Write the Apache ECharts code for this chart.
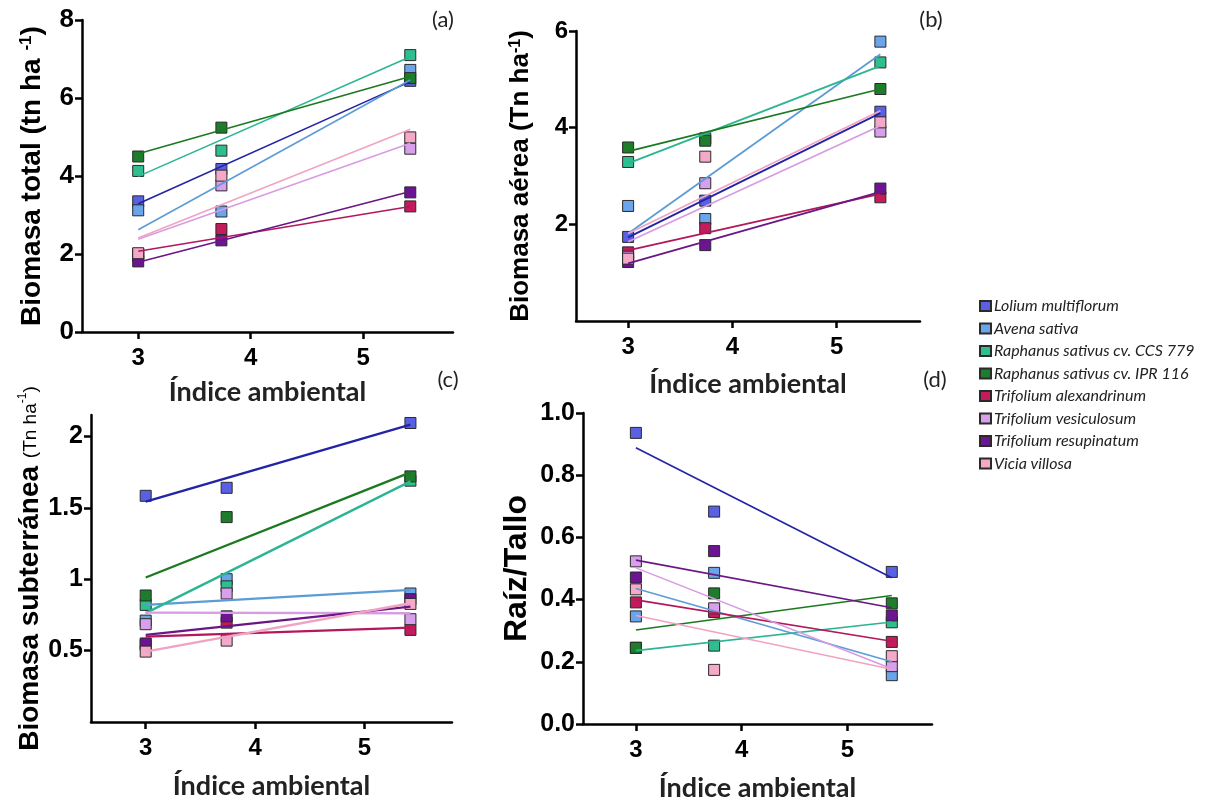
<!DOCTYPE html>
<html>
<head>
<meta charset="utf-8">
<script src="https://cdn.jsdelivr.net/npm/echarts@6/dist/echarts.min.js"></script>
<style>
html,body{margin:0;padding:0;background:#fff;}
#chart{width:1214px;height:803px;}
</style>
</head>
<body>
<div id="chart"></div>
<script>
// ---- data ----
const species = ['Lolium multiflorum','Avena sativa','Raphanus sativus cv. CCS 779','Raphanus sativus cv. IPR 116','Trifolium alexandrinum','Trifolium vesiculosum','Trifolium resupinatum','Vicia villosa'];
const envIndex = [3.0, 3.74, 5.42];
const fitX = [3.0, 5.42];
const xTicks = [3, 4, 5];

// (a) Biomasa total: rows follow species order
const totalPts = [
  [3.35, 4.18, 6.44],
  [3.12, 3.09, 6.72],
  [4.13, 4.65, 7.10],
  [4.50, 5.24, 6.51],
  [1.95, 2.64, 3.22],
  [2.00, 3.76, 4.70],
  [1.81, 2.35, 3.58],
  [2.02, 4.01, 4.99]
];
const totalFit = [
  [3.29, 6.42],[2.62, 6.46],[3.99, 7.06],[4.57, 6.55],
  [2.07, 3.22],[2.38, 4.84],[1.79, 3.60],[2.41, 5.20]
];
// (b) Biomasa aérea
const aereaPts = [
  [1.74, 2.49, 4.33],
  [2.38, 2.11, 5.78],
  [3.29, 3.78, 5.35],
  [3.59, 3.73, 4.80],
  [1.42, 1.92, 2.56],
  [1.33, 2.85, 3.92],
  [1.22, 1.57, 2.74],
  [1.29, 3.40, 4.11]
];
const aereaFit = [
  [1.73, 4.30],[1.81, 5.52],[3.26, 5.28],[3.51, 4.80],
  [1.46, 2.63],[1.64, 4.04],[1.19, 2.67],[1.81, 4.35]
];
// (c) Biomasa subterránea
const subtPts = [
  [1.584, 1.64, 2.094],
  [0.71, 1.00, 0.90],
  [0.82, 0.95, 1.69],
  [0.886, 1.435, 1.72],
  [0.54, 0.696, 0.645],
  [0.685, 0.90, 0.72],
  [0.55, 0.74, 0.86],
  [0.493, 0.57, 0.827]
];
const subtFit = [
  [1.544, 2.082],[0.82, 0.925],[0.762, 1.685],[1.012, 1.748],
  [0.598, 0.661],[0.766, 0.762],[0.61, 0.808],[0.493, 0.832]
];
// (d) Raíz/Tallo
const ratioPts = [
  [0.936, 0.683, 0.489],
  [0.346, 0.486, 0.157],
  [0.245, 0.252, 0.327],
  [0.245, 0.42, 0.388],
  [0.391, 0.36, 0.264],
  [0.523, 0.372, 0.186],
  [0.471, 0.556, 0.349],
  [0.433, 0.174, 0.218]
];
const ratioFit = [
  [0.888, 0.470],[0.436, 0.20],[0.236, 0.328],[0.302, 0.413],
  [0.399, 0.266],[0.502, 0.178],[0.527, 0.374],[0.349, 0.176]
];

// ---- styles ----
const markerColors = ['#5a60e4','#6aa4ea','#2fbf8f','#1d7d2b','#c51a5b','#d8a0ec','#6c1494','#f4a9c8'];
const lineColors   = ['#2323a6','#5c9cd6','#2bb592','#1b7a1f','#b2185b','#d79ce2','#6a1784','#f0a3c4'];

const panels = [
  {pts: totalPts, fit: totalFit, grid:{left:82, top:20, width:371, height:312}, ymin:0, ymax:8, yticks:[0,2,4,6,8], yfmt: v=>String(v), yfont:26,
   yname:'{m|Biomasa total (tn ha }{s|-1}{m|)}', yrich:{m:{fontSize:28,fontWeight:'bold',fontFamily:'Liberation Sans'}, s:{fontSize:17,fontWeight:'bold',fontFamily:'Liberation Sans',verticalAlign:'top'}}, ygap:36, xgap:47, lw:1.6},
  {pts: aereaPts, fit: aereaFit, grid:{left:576, top:31, width:344, height:290}, ymin:0, ymax:6, yticks:[2,4,6], yfmt: v=>String(v), yfont:24,
   yname:'{m|Biomasa aérea (Tn ha}{s|-1}{m|)}', yrich:{m:{fontSize:26,fontWeight:'bold',fontFamily:'Liberation Sans'}, s:{fontSize:16,fontWeight:'bold',fontFamily:'Liberation Sans',verticalAlign:'top'}}, ygap:42, xgap:50, lw:1.8},
  {pts: subtPts, fit: subtFit, grid:{left:91, top:415, width:361, height:307}, ymin:0, ymax:2.15, yticks:[0.5,1,1.5,2], yfmt: v=>String(v), yfont:25,
   yname:'{m|Biomasa subterránea }{s|(Tn ha}{t|-1}{s|)}', yrich:{m:{fontSize:28,fontWeight:'bold',fontFamily:'Liberation Sans'}, s:{fontSize:19,fontFamily:'Liberation Sans'}, t:{fontSize:12,fontFamily:'Liberation Sans',verticalAlign:'top'}}, ygap:46, xgap:51, lw:2.4},
  {pts: ratioPts, fit: ratioFit, grid:{left:583, top:413, width:349, height:314}, ymin:0, ymax:1, yticks:[0,0.2,0.4,0.6,0.8,1.0], yfmt: v=>v.toFixed(1), yfont:25,
   yname:'Raíz/Tallo', yrich:null, ygap:50, xgap:51, lw:1.6}
];

const grids = [], xAxes = [], yAxes = [], series = [];
panels.forEach((p, i) => {
  grids.push(p.grid);
  xAxes.push({
    type:'value', gridIndex:i, min:2.5, max:5.8,
    axisLine:{show:true, onZero:false, lineStyle:{color:'#000', width:2.5}},
    axisTick:{show:true, inside:false, length:7, lineStyle:{color:'#000', width:2.5}, customValues:xTicks},
    axisLabel:{show:true, customValues:xTicks, color:'#000', fontSize:24, fontWeight:'bold', fontFamily:'Liberation Sans', margin:14},
    splitLine:{show:false},
    name:'Índice ambiental', nameLocation:'middle', nameGap:p.xgap,
    nameTextStyle:{color:'#222', fontSize:27, fontWeight:'bold', fontFamily:'Lato'}
  });
  const yName = {
    name:p.yname, nameLocation:'middle', nameGap:p.ygap, nameRotate:90,
    nameTextStyle: p.yrich ? {rich:p.yrich, color:'#000'} : {color:'#000', fontSize:32, fontWeight:'bold', fontFamily:'Liberation Sans'}
  };
  yAxes.push(Object.assign({
    type:'value', gridIndex:i, min:p.ymin, max:p.ymax,
    axisLine:{show:true, onZero:false, lineStyle:{color:'#000', width:2.5}},
    axisTick:{show:true, inside:false, length:7, lineStyle:{color:'#000', width:2.5}, customValues:p.yticks},
    axisLabel:{show:true, customValues:p.yticks, formatter:p.yfmt, color:'#000', fontSize:p.yfont, fontWeight:'bold', fontFamily:'Liberation Sans', margin:8},
    splitLine:{show:false}
  }, yName));
  species.forEach((s, k) => {
    series.push({
      type:'scatter', name:s, xAxisIndex:i, yAxisIndex:i, symbol:'rect', symbolSize:11, z:2,
      itemStyle:{color:markerColors[k], borderColor:'#2a2a2a', borderWidth:1, opacity:1},
      data: envIndex.map((x, j) => [x, p.pts[k][j]]),
      emphasis:{disabled:true}
    });
  });
  species.forEach((s, k) => {
    series.push({
      type:'line', name:s + ' (ajuste)', xAxisIndex:i, yAxisIndex:i, symbol:'none', z:3,
      lineStyle:{color:lineColors[k], width:p.lw},
      data: fitX.map((x, j) => [x, p.fit[k][j]]),
      emphasis:{disabled:true}, silent:true
    });
  });
});

const panelLabels = [['(a)',443,20],['(b)',931,20],['(c)',448,380],['(d)',935,380]];

const chart = echarts.init(document.getElementById('chart'), null, {renderer:'canvas'});
chart.setOption({
  animation:false,
  backgroundColor:'#fff',
  grid:grids, xAxis:xAxes, yAxis:yAxes, series:series,
  legend:{
    data:species, orient:'vertical', left:974, top:293, itemGap:6.5,
    itemWidth:11, itemHeight:10, icon:'rect',
    textStyle:{fontFamily:'Lato', fontStyle:'italic', fontSize:16, color:'#222', padding:[0,0,0,-2]},
    selectedMode:false
  },
  graphic: panelLabels.map(l => ({
    type:'text', x:l[1], y:l[2], style:{text:l[0], fontFamily:'Lato', fontSize:22, fill:'#222', textAlign:'center', textVerticalAlign:'middle'}
  }))
});
</script>
</body>
</html>
